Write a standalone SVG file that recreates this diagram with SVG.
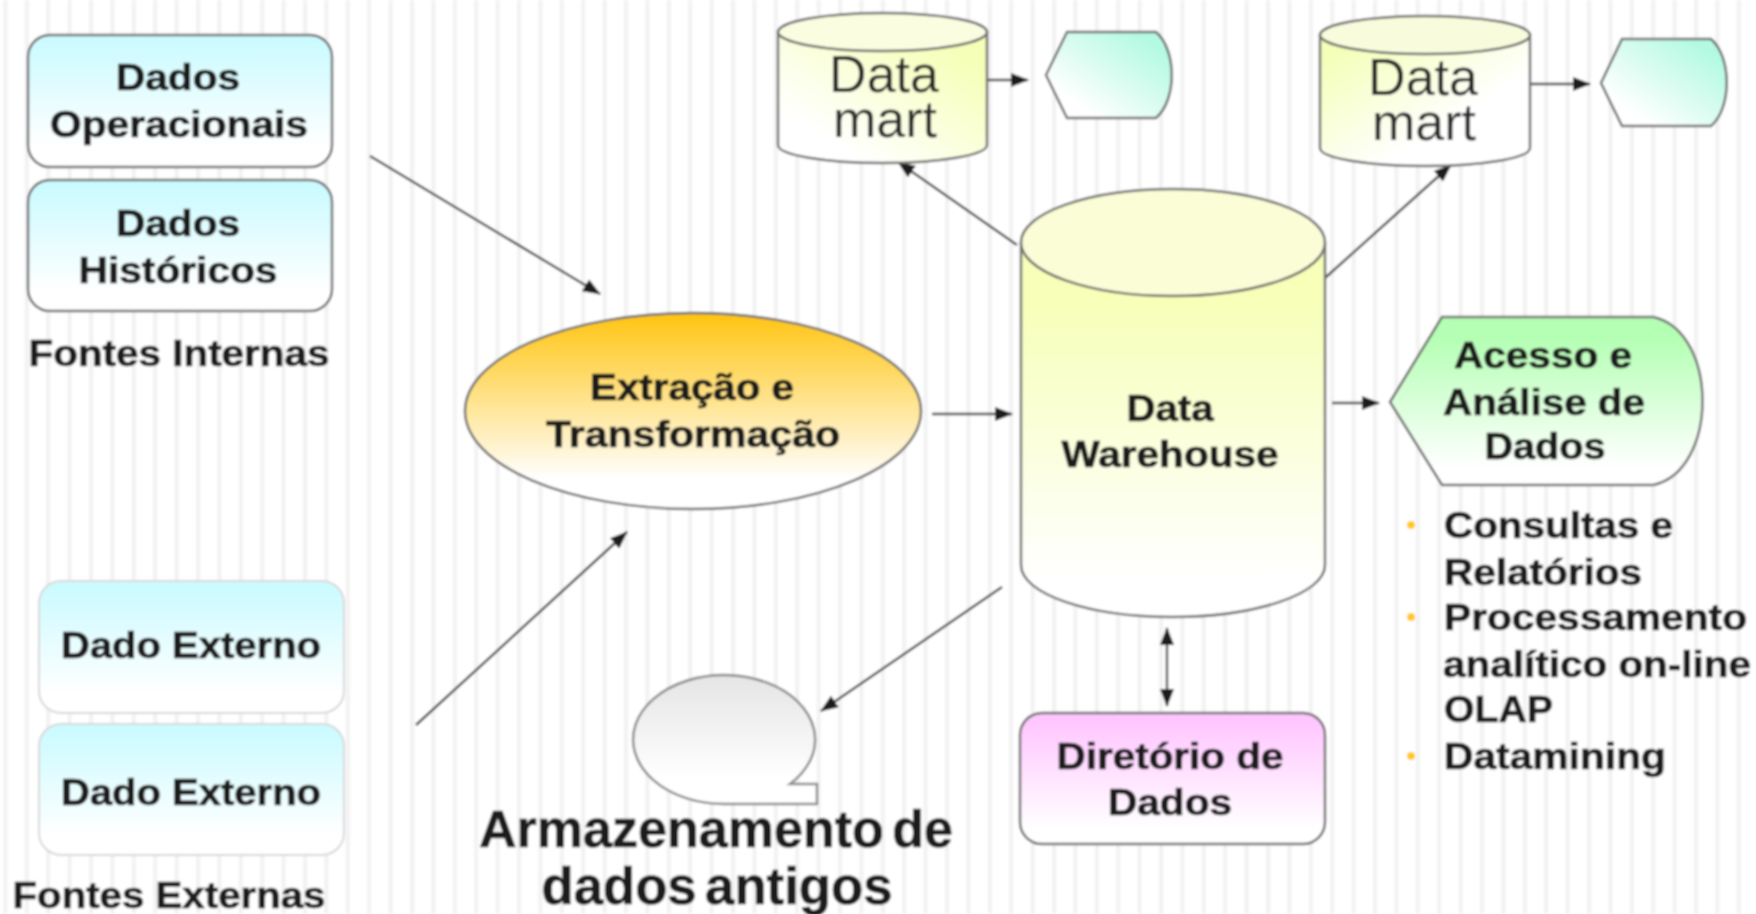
<svg xmlns="http://www.w3.org/2000/svg" width="1756" height="914" viewBox="0 0 1756 914">
<style>
text{font-family:"Liberation Sans",Arial,sans-serif;fill:#1c1c1c}
.b{font-weight:700;font-size:37px;text-anchor:middle;stroke:#1c1c1c;stroke-width:.7}
.l{font-weight:700;font-size:37px;stroke:#1c1c1c;stroke-width:.7}
.big{font-weight:700;font-size:51px;text-anchor:middle;word-spacing:-6px;stroke:#111;stroke-width:.6}
.dm{font-size:52px;text-anchor:middle;fill:#2a2a2a}
.s{stroke:#6e6e6e;stroke-width:2.5}
.sl{stroke:#d8d8d8;stroke-width:2}
.c{stroke:#444;stroke-width:2.4;fill:none}
.bullet{fill:#ffc81e}
</style>
<defs>
<pattern id="stripes" width="21.4" height="20" patternUnits="userSpaceOnUse" x="3.4">
<rect width="21.4" height="20" fill="#fff"/><rect width="4" height="20" fill="#f2f2f2"/>
</pattern>
<linearGradient id="cyan" x1="0" y1="0" x2="0" y2="1"><stop offset=".06" stop-color="#ccfbff"/><stop offset=".85" stop-color="#fff"/></linearGradient>
<linearGradient id="orange" x1="0" y1="0" x2="0" y2="1"><stop offset="0" stop-color="#ffc410"/><stop offset=".85" stop-color="#fff"/></linearGradient>
<linearGradient id="yellow" x1="0" y1="0" x2="0" y2="1"><stop offset=".15" stop-color="#f7ffb8"/><stop offset=".9" stop-color="#fff"/></linearGradient>
<linearGradient id="y1" x1="0" y1="1" x2="1" y2="0"><stop offset=".2" stop-color="#fff"/><stop offset=".85" stop-color="#f6ffb8"/></linearGradient>
<linearGradient id="y2" x1="0" y1="0" x2="1" y2="1"><stop offset=".1" stop-color="#f4ffb8"/><stop offset=".65" stop-color="#fff"/></linearGradient>
<linearGradient id="mint" x1="0" y1="1" x2="1" y2="0"><stop offset=".2" stop-color="#fff"/><stop offset=".85" stop-color="#b4fae2"/></linearGradient>
<linearGradient id="green" x1="0" y1="0" x2="0" y2="1"><stop offset=".12" stop-color="#b4ffb4"/><stop offset=".9" stop-color="#fff"/></linearGradient>
<linearGradient id="grey" x1="0" y1="0" x2="0" y2="1"><stop offset=".05" stop-color="#e6e6e6"/><stop offset=".8" stop-color="#fff"/></linearGradient>
<linearGradient id="pink" x1="0" y1="0" x2="0" y2="1"><stop offset=".06" stop-color="#ffc6ff"/><stop offset=".88" stop-color="#fff"/></linearGradient>
<marker id="a" markerUnits="userSpaceOnUse" markerWidth="18" markerHeight="14" refX="17" refY="7" orient="auto"><path d="M0,0L18,7L0,14Z" fill="#1c1c1c"/></marker>
<marker id="as" markerUnits="userSpaceOnUse" markerWidth="18" markerHeight="14" refX="1" refY="7" orient="auto"><path d="M18,0L0,7L18,14Z" fill="#1c1c1c"/></marker>
<filter id="soft" x="0" y="0" width="1756" height="914" filterUnits="userSpaceOnUse"><feGaussianBlur stdDeviation="1"/></filter>
</defs>
<g filter="url(#soft)">
<rect width="1756" height="914" fill="url(#stripes)"/>
<g id="connectors">
<line class="c" x1="370" y1="156" x2="600" y2="294" marker-end="url(#a)"/>
<line class="c" x1="416" y1="725" x2="627" y2="532" marker-end="url(#a)"/>
<line class="c" x1="932" y1="414" x2="1012" y2="414" marker-end="url(#a)"/>
<line class="c" x1="1017" y1="245" x2="898" y2="162" marker-end="url(#a)"/>
<line class="c" x1="1325" y1="278" x2="1451" y2="165" marker-end="url(#a)"/>
<line class="c" x1="987" y1="80" x2="1028" y2="80" marker-end="url(#a)"/>
<line class="c" x1="1530" y1="84" x2="1590" y2="84" marker-end="url(#a)"/>
<line class="c" x1="1332" y1="403" x2="1379" y2="403" marker-end="url(#a)"/>
<line class="c" x1="1002" y1="587" x2="821" y2="711" marker-end="url(#a)"/>
<line class="c" x1="1167" y1="628" x2="1167" y2="706" marker-end="url(#a)" marker-start="url(#as)"/>
</g>
<g id="dados-operacionais">
<rect class="s" x="28" y="35" width="304" height="132" rx="22" fill="url(#cyan)"/>
<text class="b" x="178" y="90" textLength="124" lengthAdjust="spacingAndGlyphs">Dados</text>
<text class="b" x="179" y="137" textLength="258" lengthAdjust="spacingAndGlyphs">Operacionais</text>
</g>
<g id="dados-historicos">
<rect class="s" x="28" y="180" width="304" height="131" rx="22" fill="url(#cyan)"/>
<text class="b" x="178" y="236" textLength="124" lengthAdjust="spacingAndGlyphs">Dados</text>
<text class="b" x="178" y="283" textLength="199" lengthAdjust="spacingAndGlyphs">Históricos</text>
</g>
<g id="fontes-internas"><text class="b" x="179" y="366" textLength="301" lengthAdjust="spacingAndGlyphs">Fontes Internas</text></g>
<g id="dado-externo-1">
<rect class="sl" x="39" y="581" width="305" height="132" rx="22" fill="url(#cyan)"/>
<text class="b" x="191" y="658" textLength="260" lengthAdjust="spacingAndGlyphs">Dado Externo</text>
</g>
<g id="dado-externo-2">
<rect class="sl" x="39" y="724" width="305" height="131" rx="22" fill="url(#cyan)"/>
<text class="b" x="191" y="805" textLength="260" lengthAdjust="spacingAndGlyphs">Dado Externo</text>
</g>
<g id="fontes-externas"><text class="b" x="169" y="908" textLength="313" lengthAdjust="spacingAndGlyphs">Fontes Externas</text></g>
<g id="extracao">
<ellipse class="s" cx="693" cy="411" rx="228" ry="98" fill="url(#orange)"/>
<text class="b" x="692" y="400" textLength="204" lengthAdjust="spacingAndGlyphs">Extração e</text>
<text class="b" x="693" y="447" textLength="294" lengthAdjust="spacingAndGlyphs">Transformação</text>
</g>
<g id="data-warehouse">
<path class="s" d="M1021,243V565C1021,594 1089,617 1172,617S1325,594 1325,565V243Z" fill="url(#yellow)"/>
<ellipse class="s" cx="1173" cy="242.500" rx="152" ry="53.500" fill="#fafdd6"/>
<text class="b" x="1170" y="421" textLength="87" lengthAdjust="spacingAndGlyphs">Data</text>
<text class="b" x="1170" y="467" textLength="217" lengthAdjust="spacingAndGlyphs">Warehouse</text>
</g>
<g id="data-mart-1">
<path class="s" d="M778,32V145C778,155 825,163 882.500,163S987,155 987,145V32Z" fill="url(#y1)"/>
<ellipse class="s" cx="882.500" cy="32" rx="104.500" ry="19" fill="#fbfde0"/>
<text class="dm" y="92"><tspan x="884">Data</tspan><tspan x="885" dy="45">mart</tspan></text>
</g>
<g id="data-mart-2">
<path class="s" d="M1320,35V148C1320,158 1367,166 1425,166S1530,158 1530,148V35Z" fill="url(#y2)"/>
<ellipse class="s" cx="1425" cy="35" rx="105" ry="19" fill="#f9fcdc"/>
<text class="dm" y="95"><tspan x="1423">Data</tspan><tspan x="1424" dy="45">mart</tspan></text>
</g>
<g id="visao-1"><path class="s" d="M1046,75L1067,32H1156C1177,50 1177,100 1156,118H1067Z" fill="url(#mint)"/></g>
<g id="visao-2"><path class="s" d="M1601,83L1622,39H1711C1732,57 1732,108 1711,126H1622Z" fill="url(#mint)"/></g>
<g id="acesso">
<path class="s" d="M1390,402L1442,317H1653C1719,331 1719,471 1653,485H1442Z" fill="url(#green)"/>
<text class="b" x="1543" y="368" textLength="178" lengthAdjust="spacingAndGlyphs">Acesso e</text>
<text class="b" x="1544" y="415" textLength="202" lengthAdjust="spacingAndGlyphs">Análise de</text>
<text class="b" x="1545" y="459" textLength="121" lengthAdjust="spacingAndGlyphs">Dados</text>
</g>
<g id="lista">
<circle class="bullet" cx="1411" cy="525" r="4"/>
<circle class="bullet" cx="1411" cy="617" r="4"/>
<circle class="bullet" cx="1411" cy="756" r="4"/>
<text class="l" x="1444" y="538" textLength="229" lengthAdjust="spacingAndGlyphs">Consultas e</text>
<text class="l" x="1444" y="585" textLength="198" lengthAdjust="spacingAndGlyphs">Relatórios</text>
<text class="l" x="1444" y="630" textLength="303" lengthAdjust="spacingAndGlyphs">Processamento</text>
<text class="l" x="1443" y="677" textLength="308" lengthAdjust="spacingAndGlyphs">analítico on-line</text>
<text class="l" x="1444" y="722" textLength="109" lengthAdjust="spacingAndGlyphs">OLAP</text>
<text class="l" x="1444" y="769" textLength="222" lengthAdjust="spacingAndGlyphs">Datamining</text>
</g>
<g id="armazenamento">
<path class="s" stroke-opacity=".8" d="M790,784H817V804H726A91,64.500 0 1 1 790,784Z" fill="url(#grey)"/>
<text class="big" x="716" y="847" textLength="474" lengthAdjust="spacingAndGlyphs">Armazenamento de</text>
<text class="big" x="717" y="904" textLength="351" lengthAdjust="spacingAndGlyphs">dados antigos</text>
</g>
<g id="diretorio">
<rect class="s" x="1020" y="713" width="305" height="131" rx="22" fill="url(#pink)"/>
<text class="b" x="1170" y="769" textLength="227" lengthAdjust="spacingAndGlyphs">Diretório de</text>
<text class="b" x="1170" y="815" textLength="124" lengthAdjust="spacingAndGlyphs">Dados</text>
</g>
</g>
</svg>
